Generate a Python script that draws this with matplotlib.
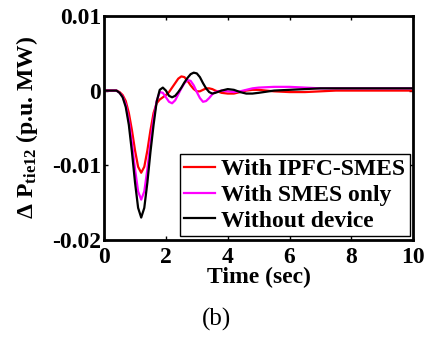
import numpy as np
import matplotlib
matplotlib.use("Agg")
from matplotlib import pyplot as plt

plt.rcParams['font.family'] = 'Liberation Serif'
plt.rcParams['font.weight'] = 'bold'
plt.rcParams['mathtext.fontset'] = 'custom'
plt.rcParams['mathtext.rm'] = 'Liberation Serif:bold'
plt.rcParams['mathtext.it'] = 'Liberation Serif:bold'
plt.rcParams['mathtext.bf'] = 'Liberation Serif:bold'

# time (s)
t = [0, 0.2, 0.4, 0.5, 0.6, 0.7, 0.8, 0.9, 1.0, 1.1, 1.2, 1.3, 1.4, 1.5, 1.6, 1.7, 1.8, 1.9,
     2.0, 2.1, 2.2, 2.3, 2.4, 2.5, 2.6, 2.7, 2.8, 2.9, 3.0, 3.1, 3.2, 3.3, 3.4, 3.5, 3.6, 3.8,
     4.0, 4.2, 4.4, 4.6, 4.8, 5.0, 5.5, 6.0, 6.5, 7.0, 7.5, 8.0, 9.0, 10.0]

# deviation values in 1e-3 p.u. MW
ipfc_smes = [0, 0, 0, -0.2, -0.6, -1.4, -3.0, -5.3, -8.0, -10.2, -11.0, -10.2, -8.0, -5.3, -3.0, -1.7, -1.2, -0.9,
             -0.6, -0.2, 0.4, 1.0, 1.6, 1.9, 1.8, 1.3, 0.7, 0.2, -0.1, -0.1, 0.1, 0.3, 0.3, 0.2, 0.0, -0.3,
             -0.4, -0.4, -0.2, 0.0, 0.1, 0.1, -0.1, -0.2, -0.2, -0.1, 0.0, 0.0, 0.0, 0.0]
smes_only = [0, 0, 0, -0.3, -0.8, -1.9, -4.0, -7.0, -10.5, -13.5, -14.6, -13.5, -10.5, -7.0, -3.8, -1.4, -0.2, -0.3,
             -0.9, -1.5, -1.7, -1.3, -0.5, 0.3, 1.0, 1.4, 1.3, 0.7, -0.2, -1.0, -1.5, -1.4, -1.0, -0.5, -0.2, 0.0,
             -0.1, -0.2, -0.1, 0.1, 0.3, 0.4, 0.5, 0.5, 0.4, 0.3, 0.3, 0.3, 0.3, 0.3]
no_device = [0, 0, 0, -0.3, -0.9, -2.2, -4.6, -8.2, -12.3, -15.7, -17.0, -15.7, -12.3, -8.2, -4.6, -1.5, 0.1, 0.4,
             0.0, -0.7, -0.9, -0.7, -0.2, 0.4, 1.1, 1.7, 2.2, 2.4, 2.3, 1.8, 1.0, 0.3, -0.2, -0.4, -0.3, 0.0,
             0.2, 0.1, -0.2, -0.4, -0.4, -0.3, 0.0, 0.1, 0.2, 0.3, 0.3, 0.3, 0.3, 0.3]

labels = ['With IPFC-SMES', 'With SMES only', 'Without device']
colors = ['#ff0000', '#ff00ff', '#000000']

fig = plt.figure(figsize=(4.25, 3.38), dpi=100)
ax = fig.add_axes([0.245, 0.29, 0.727, 0.663])

for y, lab, c in zip([ipfc_smes, smes_only, no_device], labels, colors):
    ax.plot(t, np.array(y) * 1e-3, color=c, lw=1.6, label=lab)

ax.set_xlim(0, 10)
ax.set_ylim(-0.02, 0.01)
ax.set_xticks([0, 2, 4, 6, 8, 10])
ax.set_yticks([-0.02, -0.01, 0, 0.01])
ax.set_yticklabels(['-0.02', '-0.01', '0', '0.01'])
ax.tick_params(direction='in', top=True, right=True, length=3, width=1,
               labelsize=17)
ax.tick_params(axis='x', pad=5)
ax.tick_params(axis='y', pad=2)
for s in ax.spines.values():
    s.set_linewidth(2)

ax.set_xlabel('Time (sec)', fontsize=17, fontweight='bold', labelpad=-1)
ax.set_ylabel(r'$\Delta\ \mathrm{P}_{\mathrm{tie12}}$ (p.u. MW)', fontsize=17,
              fontweight='bold', labelpad=9)

leg = ax.legend(loc='lower right', fontsize=17, handlelength=1.3, handletextpad=0.25,
                borderpad=0.2, labelspacing=0.18, fancybox=False, framealpha=1,
                borderaxespad=0.15)
leg.get_frame().set_edgecolor('black')
leg.get_frame().set_linewidth(1)

fig.text(0.51, 0.055, '(b)', ha='center', va='center', fontsize=18, fontweight='normal')

fig.savefig('out.png', dpi=100)
